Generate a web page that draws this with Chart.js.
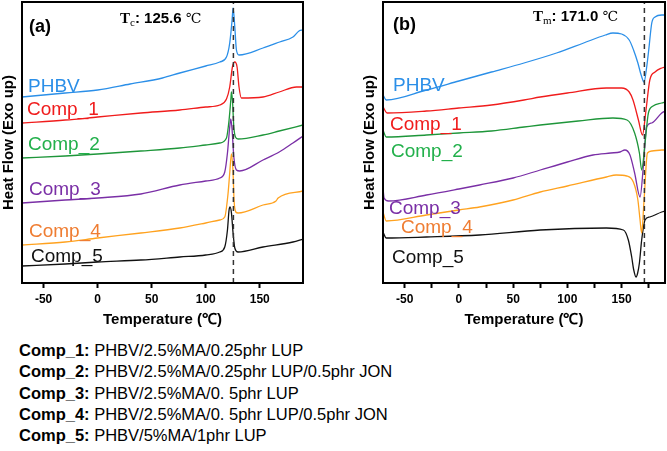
<!DOCTYPE html>
<html>
<head>
<meta charset="utf-8">
<script src="https://cdn.jsdelivr.net/npm/chart.js@4.4.1/dist/chart.umd.min.js"></script>
<style>
body { margin: 0; width: 667px; height: 451px; background: #fff; position: relative; overflow: hidden; font-family: 'Liberation Sans', Arial, sans-serif; }
#chartA { position: absolute; left: 0; top: 0; }
#chartB { position: absolute; left: 333px; top: 0; }
#notes { position: absolute; left: 19px; top: 340px; font-size: 16.5px; line-height: 21.25px; color: #000; white-space: nowrap; }
</style>
</head>
<body>
<canvas id="chartA" width="333" height="335"></canvas>
<canvas id="chartB" width="334" height="335"></canvas>
<div id="notes"></div>
<script>
// curve names and the composition notes below the plots
const curveNames = ['PHBV', 'Comp_1', 'Comp_2', 'Comp_3', 'Comp_4', 'Comp_5'];
const compDesc = [
    'PHBV/2.5%MA/0.25phr LUP',
    'PHBV/2.5%MA/0.25phr LUP/0.5phr JON',
    'PHBV/2.5%MA/0. 5phr LUP',
    'PHBV/2.5%MA/0. 5phr LUP/0.5phr JON',
    'PHBV/5%MA/1phr LUP'
];

// tick positions on the temperature axes
const ticksA = [-50, 0, 50, 100, 150];
const ticksB = [-50, -25, 0, 25, 50, 75, 100, 125, 150, 175];

// (a) cooling scans: [temperature, heat flow (arb.)]
const coolPHBV = [[-70,186],[-30,190],[0,193],[30,199],[60,205],[76,210],[100,217],[113,221],[119.2,226],[122.2,240],[124.4,263],[125.3,275],[126.9,256],[128.4,233],[130.8,228],[153,235],[168.4,241],[180.7,246],[186.3,252],[190,253]];
const coolComp1 = [[-70,160],[-30,163],[0,166],[40,170],[76,173],[100,176],[113,178],[119.2,184],[122.2,196],[124.7,216],[126.9,221],[129,216],[130.8,196],[133,185],[153,186],[168,191],[184,196],[190,196]];
const coolComp2 = [[-70,125],[-30,127],[0,129],[40,132],[76,135],[100,138],[113,140],[119.2,145],[121.6,163],[123.2,183],[123.8,191],[124.7,183],[126,156],[127.5,146],[129.9,144],[153,148],[168,152],[190,158]];
const coolComp3 = [[-70,80],[-30,83],[0,85],[40,89],[76,98],[100,102],[113,105],[117.6,111],[120.1,130],[122.2,156],[123.2,164],[124.4,153],[126,126],[128.4,113],[131.4,112],[153,123],[168,131],[180.7,140],[190,147]];
const coolComp4 = [[-70,38],[-30,41],[0,45],[40,50],[76,55],[100,60],[113,63],[117.6,66],[120.7,90],[122.2,110],[123.8,129],[125.3,110],[126.2,83],[127.8,71],[129.9,70],[153,78],[165,82],[167,85],[190,92]];
const coolComp5 = [[-70,17],[-30,19],[0,21],[40,23],[76,26],[100,28],[113,31],[117.6,36],[120.1,53],[121.6,73],[122.5,76],[123.8,70],[125.3,50],[126.9,35],[129.9,31],[153,36],[180.7,41],[190,44]];

// (b) heating scans
const heatPHBV = [[-70,188],[-67,183],[-30,193],[0,202],[30,211],[60,220],[90,230],[115,240],[135,248],[142,250],[150,249],[157,243],[161,233],[165,220],[168,208],[170.7,201],[173,215],[175,233],[177.8,260],[180.8,266],[187,268],[190,268]];
const heatComp1 = [[-70,176],[-66,170],[-30,172],[0,175],[30,178],[60,183],[75,186],[100,190],[136,195],[150,195],[157,191],[160.5,183],[165.5,163],[169.2,148],[172.5,173],[176,203],[180.8,211],[187,215],[190,216]];
const heatComp2 = [[-70,153],[-67,146],[-30,148],[0,150],[30,152],[60,156],[75,158],[110,162],[142,165],[155,163],[162,150],[166.4,130],[168.5,113],[171.6,140],[174.7,170],[179,177],[187,180],[190,181]];
const heatComp3 = [[-70,95],[-69,85],[-65,82],[-30,88],[0,94],[19,98],[50,105],[75,113],[100,121],[123.6,128],[140,130],[148.5,131],[153,133],[157.7,128],[162,110],[167,86],[170,116],[173,156],[177.8,160],[187,170],[190,172]];
const heatComp4 = [[-70,71],[-67,62],[-30,68],[0,73],[19,76],[50,83],[75,91],[100,97],[136,106],[145,108],[154.7,107],[160.8,101],[165,83],[167,63],[168.5,50],[170.7,83],[173.8,130],[178,132],[187,133],[190,133]];
const heatComp5 = [[-70,51],[-67,45],[-30,46],[19,48],[75,53],[136,55],[151.6,53],[156.2,43],[159.3,26],[161,14],[163.3,6],[164.8,10],[166.4,20],[168.5,43],[171.6,63],[176,66],[187,71],[190,72]];

const tcValue = 125.6;
const tmValue = 171.0;

const lineColors = ['#2b8fe8', '#f01c1c', '#1e963a', '#7a2fa6', '#ffa21f', '#111111'];
const textColors = ['#2b8fe8', '#f01c1c', '#22b04b', '#7a2fa6', '#ef7d32', '#111111'];
const SANS = "'Liberation Sans', Arial, sans-serif";

// notes under the charts
document.getElementById('notes').innerHTML = compDesc
    .map((d, i) => `<b>${curveNames[i + 1]}:</b> ${d}`)
    .join('<br>');

// frame, panel tag, curve labels and the Tc/Tm note
const panelDecor = {
    id: 'panelDecor',
    afterDatasetsDraw(chart, args, o) {
        const { ctx, chartArea: a } = chart;
        ctx.save();
        ctx.strokeStyle = '#000';
        ctx.lineWidth = 2;
        ctx.strokeRect(a.left, a.top, a.right - a.left, a.bottom - a.top);

        ctx.textBaseline = 'alphabetic';
        ctx.fillStyle = '#000';
        ctx.font = `bold 18px ${SANS}`;
        ctx.fillText(o.tag, a.left + o.tagPos[0], a.top + o.tagPos[1]);

        ctx.font = `19px ${SANS}`;
        o.labelPos.forEach((p, i) => {
            ctx.fillStyle = textColors[i];
            ctx.fillText(curveNames[i], a.left + p[0], a.top + p[1]);
        });

        // T with subscript, then value
        let x = a.left + o.notePos[0];
        const y = a.top + o.notePos[1];
        ctx.fillStyle = '#000';
        ctx.font = "bold 15px 'Liberation Serif', serif";
        ctx.fillText('T', x, y);
        x += ctx.measureText('T').width;
        ctx.font = "11px 'Liberation Serif', serif";
        ctx.fillText(o.sub, x, y + 3);
        x += ctx.measureText(o.sub).width;
        ctx.font = `bold 15px ${SANS}`;
        const v = ': ' + o.value.toFixed(1) + ' ';
        ctx.fillText(v, x, y);
        x += ctx.measureText(v).width;
        ctx.font = "14px 'DejaVu Serif', serif";
        ctx.fillText('\u2103', x, y);
        ctx.restore();
    }
};

function makePanel(id, series, marker, deco, pad, tickValues) {
    const datasets = [{
        data: [{ x: marker, y: 0 }, { x: marker, y: 281 }],
        borderColor: '#333',
        borderWidth: 1.5,
        borderDash: [5, 4],
        pointRadius: 0
    }];
    series.forEach((s, i) => {
        datasets.push({
            data: s.map(p => ({ x: p[0], y: p[1] })),
            borderColor: lineColors[i],
            borderWidth: 1.3,
            pointRadius: 0,
            cubicInterpolationMode: 'monotone'
        });
    });

    return new Chart(document.getElementById(id).getContext('2d'), {
        type: 'line',
        data: { datasets },
        options: {
            responsive: false,
            animation: false,
            events: [],
            layout: { padding: pad },
            plugins: {
                legend: { display: false },
                tooltip: { enabled: false },
                panelDecor: deco
            },
            scales: {
                x: {
                    type: 'linear',
                    min: -70,
                    max: 190,
                    afterFit: (s) => { s.height = 52; },
                    afterBuildTicks: (s) => { s.ticks = tickValues.map(v => ({ value: v })); },
                    ticks: {
                        autoSkip: false,
                        maxRotation: 0,
                        padding: 4,
                        color: '#000',
                        font: { family: SANS, size: 12, weight: 'bold' },
                        callback: (v) => (v % 50 === 0 ? String(v) : '')
                    },
                    grid: { drawOnChartArea: false, drawTicks: true, tickLength: 5, tickColor: '#000', tickWidth: 2 },
                    border: { display: false },
                    title: {
                        display: true,
                        text: 'Temperature (\u2103)',
                        color: '#000',
                        font: { family: SANS, size: 15, weight: 'bold' },
                        padding: { top: 0, bottom: 6 }
                    }
                },
                y: {
                    min: 0,
                    max: 281,
                    afterFit: (s) => { s.width = 22; },
                    ticks: { display: false },
                    grid: { display: false, drawTicks: false },
                    border: { display: false },
                    title: {
                        display: true,
                        text: 'Heat Flow (Exo up)',
                        color: '#000',
                        font: { family: SANS, size: 15, weight: 'bold' },
                        padding: 0
                    }
                }
            }
        },
        plugins: [panelDecor]
    });
}

const chartA = makePanel('chartA',
    [coolPHBV, coolComp1, coolComp2, coolComp3, coolComp4, coolComp5],
    tcValue,
    { tag: '(a)', tagPos: [7, 30], sub: 'c', value: tcValue, notePos: [98, 21],
      labelPos: [[6, 90], [5, 113], [6, 148], [7, 193], [7, 235], [9, 260]] },
    { left: 0, top: 2, right: 30, bottom: 0 }, ticksA);

const chartB = makePanel('chartB',
    [heatPHBV, heatComp1, heatComp2, heatComp3, heatComp4, heatComp5],
    tmValue,
    { tag: '(b)', tagPos: [10, 28], sub: 'm', value: tmValue, notePos: [150, 19],
      labelPos: [[10, 89], [7, 128], [8, 155], [6, 212], [18, 231], [9, 261]] },
    { left: 28, top: 2, right: 2, bottom: 0 }, ticksB);
</script>
</body>
</html>
